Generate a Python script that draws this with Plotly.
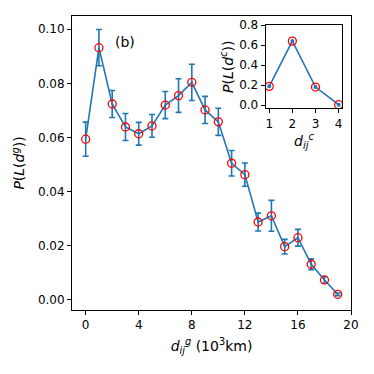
import plotly.graph_objects as go

# main panel: geographic distance bins (10^3 km)
dist_g = list(range(20))
prob_g = [0.0594, 0.0932, 0.0724, 0.0639, 0.0614, 0.0643, 0.0720, 0.0755, 0.0804, 0.0702,
          0.0658, 0.0505, 0.0463, 0.0288, 0.0311, 0.0197, 0.0230, 0.0132, 0.0074, 0.0021]
err_g = [0.0063, 0.0067, 0.0050, 0.0050, 0.0042, 0.0042, 0.0050, 0.0062, 0.0067, 0.0050,
         0.0050, 0.0047, 0.0043, 0.0033, 0.0057, 0.0027, 0.0031, 0.0020, 0.0012, 0.0005]

# inset: community distance
dist_c = [1, 2, 3, 4]
prob_c = [0.187, 0.640, 0.180, 0.003]

blue = "#1f77b4"
font = dict(family="DejaVu Sans", size=12, color="black")

fig = go.Figure()

fig.add_trace(go.Scatter(
    x=dist_g, y=prob_g, mode="lines",
    line=dict(color=blue, width=1.6),
    error_y=dict(type="data", array=err_g, color=blue, thickness=1.6, width=3),
))
fig.add_trace(go.Scatter(
    x=dist_g, y=prob_g, mode="markers",
    marker=dict(symbol="circle-open", color="red", size=8, line=dict(width=1.3)),
))

fig.add_trace(go.Scatter(
    x=dist_c, y=prob_c, mode="lines+markers", xaxis="x2", yaxis="y2",
    line=dict(color=blue, width=1.6),
    marker=dict(color=blue, size=4),
))
fig.add_trace(go.Scatter(
    x=dist_c, y=prob_c, mode="markers", xaxis="x2", yaxis="y2",
    marker=dict(symbol="circle-open", color="red", size=8, line=dict(width=1.3)),
))

axis_style = dict(showgrid=False, zeroline=False, showline=True, linecolor="black",
                  linewidth=1, mirror=True, ticks="outside", ticklen=4, tickwidth=1,
                  tickcolor="black", tickfont=font, automargin=False)

# page body has an 8px margin, so the figure is 358px and offsets shrink by 8
fig.update_layout(
    width=358, height=358,
    margin=dict(l=64, r=15, t=8, b=56),
    plot_bgcolor="white", paper_bgcolor="white",
    showlegend=False, font=font,
    xaxis=dict(axis_style, range=[-1.03, 20], tickvals=[0, 4, 8, 12, 16, 20],
               domain=[0, 1],
               title=dict(text="<i>d</i><sub><i>ij</i></sub><sup><i>g</i></sup> (10<sup>3</sup>km)",
                          font=dict(family="DejaVu Sans", size=14), standoff=9)),
    yaxis=dict(axis_style, range=[-0.0037, 0.1049], tickvals=[0, 0.02, 0.04, 0.06, 0.08, 0.10],
               tickformat=".2f",
               title=dict(text="<i>P</i>(<i>L</i>(<i>d</i><sup><i>g</i></sup>))",
                          font=dict(family="DejaVu Sans", size=14), standoff=9)),
    xaxis2=dict(axis_style, range=[0.845, 4.16], tickvals=[1, 2, 3, 4],
                domain=[0.694, 0.969], anchor="y2",
                title=dict(text="<i>d</i><sub><i>ij</i></sub><sup><i>c</i></sup>",
                           font=dict(family="DejaVu Sans", size=14), standoff=5)),
    yaxis2=dict(axis_style, range=[-0.033, 0.8], tickvals=[0, 0.2, 0.4, 0.6, 0.8],
                tickformat=".1f", domain=[0.686, 0.969], anchor="x2",
                title=dict(text="<i>P</i>(<i>L</i>(<i>d</i><sup><i>c</i></sup>))",
                           font=dict(family="DejaVu Sans", size=14), standoff=2)),
    annotations=[dict(x=3, y=0.0954, xref="x", yref="y", text="(b)", showarrow=False,
                      font=dict(family="DejaVu Sans", size=14))],
)

fig.write_html("out.html")
